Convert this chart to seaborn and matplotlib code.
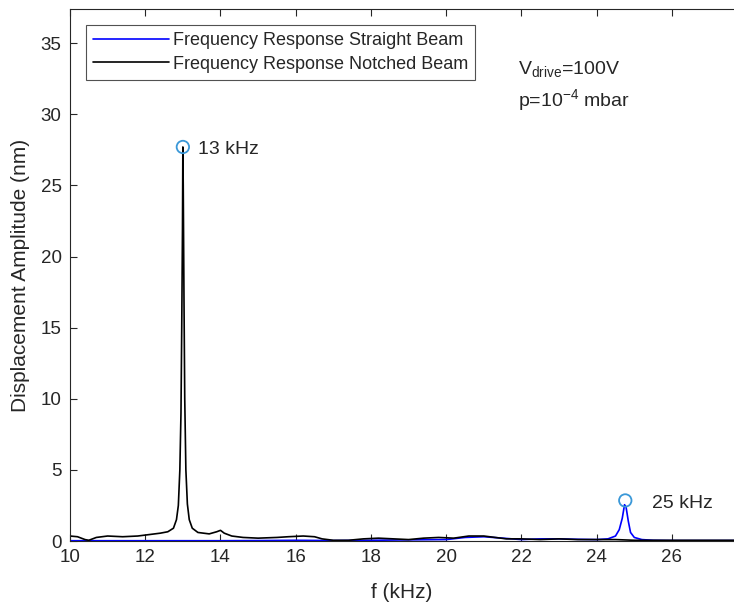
import numpy as np
import pandas as pd
import matplotlib
matplotlib.use("Agg")
import matplotlib.pyplot as plt
import seaborn as sns

# ---- data ----
notched_f = [10.0, 10.2, 10.4, 10.5, 10.7, 11.0, 11.4, 11.8, 12.1, 12.4, 12.6, 12.75,
             12.83, 12.88, 12.92, 12.95, 12.97, 12.99, 13.0, 13.01, 13.03, 13.05, 13.08,
             13.12, 13.17, 13.25, 13.4, 13.7, 13.9, 14.0, 14.1, 14.3, 14.6, 15.0, 15.5,
             15.8, 16.2, 16.5, 16.7, 17.0, 17.4, 17.8, 18.2, 18.6, 19.0, 19.4, 19.8,
             20.2, 20.6, 21.0, 21.3, 21.6, 22.0, 22.5, 23.0, 23.5, 24.0, 24.5, 25.0,
             25.5, 26.0, 26.5, 27.0, 27.65]
notched_amp = [0.35, 0.3, 0.1, 0.05, 0.25, 0.35, 0.3, 0.35, 0.45, 0.55, 0.65, 0.9,
               1.5, 2.5, 5.0, 9.0, 15.0, 22.0, 27.7, 25.0, 17.0, 10.0, 5.0,
               2.6, 1.5, 0.9, 0.6, 0.5, 0.65, 0.75, 0.55, 0.35, 0.25, 0.2, 0.25,
               0.3, 0.35, 0.3, 0.15, 0.05, 0.05, 0.15, 0.2, 0.15, 0.1, 0.2, 0.25,
               0.2, 0.35, 0.35, 0.25, 0.15, 0.15, 0.1, 0.15, 0.1, 0.1, 0.1, 0.05,
               0.05, 0.05, 0.05, 0.05, 0.05]

straight_f = [10.0, 11.0, 12.0, 13.0, 14.0, 15.0, 16.0, 17.0, 18.0, 19.0, 20.0, 20.5,
              21.0, 21.5, 22.0, 22.5, 23.0, 23.5, 24.0, 24.3, 24.5, 24.6, 24.68, 24.74,
              24.78, 24.84, 24.9, 25.0, 25.2, 25.5, 26.0, 26.5, 27.0, 27.65]
straight_amp = [0.02, 0.02, 0.02, 0.02, 0.02, 0.03, 0.05, 0.03, 0.05, 0.08, 0.1, 0.25,
                0.3, 0.2, 0.1, 0.15, 0.15, 0.12, 0.1, 0.15, 0.35, 0.8, 1.6, 2.55,
                2.4, 1.4, 0.6, 0.25, 0.1, 0.05, 0.03, 0.03, 0.03, 0.03]

peak_f = [13.0, 24.76]
peak_amp = [27.7, 2.85]
peak_labels = ["13 kHz", "25 kHz"]

series_names = ["Frequency Response Straight Beam", "Frequency Response Notched Beam"]

df = pd.concat([
    pd.DataFrame({"f": straight_f, "amp": straight_amp, "series": series_names[0]}),
    pd.DataFrame({"f": notched_f, "amp": notched_amp, "series": series_names[1]}),
], ignore_index=True)

sns.set_style("ticks")
plt.rcParams["font.family"] = ["Liberation Sans", "DejaVu Sans"]
plt.rcParams["mathtext.fontset"] = "custom"
plt.rcParams["mathtext.rm"] = "Liberation Sans"
plt.rcParams["mathtext.it"] = "Liberation Sans"

TXT = "#262626"

fig = plt.figure(figsize=(7.34, 6.08), dpi=100)
ax = fig.add_axes([70 / 734, 1 - 541 / 608, 1 - 70 / 734, (541 - 9) / 608])

sns.lineplot(data=df, x="f", y="amp", hue="series", sort=False, estimator=None,
             palette={series_names[0]: "#0000ff", series_names[1]: "#000000"},
             linewidth=1.2, ax=ax)

ax.scatter(peak_f, peak_amp, s=80, facecolors="none", edgecolors="#3a98d8",
           linewidths=1.3, zorder=5)
ax.text(13.4, 27.5, peak_labels[0], fontsize=14, va="center", ha="left", color=TXT)
ax.text(25.48, 2.67, peak_labels[1], fontsize=14, va="center", ha="left", color=TXT)

ax.text(21.9, 33.2, r"V$_{\mathrm{drive}}$=100V", fontsize=14, va="center", ha="left", color=TXT)
ax.text(21.9, 31.0, r"p=10$^{\mathrm{-4}}$ mbar", fontsize=14, va="center", ha="left", color=TXT)

ax.set_xlim(10, 27.65)
ax.set_ylim(0, 37.4)
ax.set_xticks(np.arange(10, 27, 2))
ax.set_yticks(np.arange(0, 36, 5))
ax.set_xlabel("f (kHz)", fontsize=15, color=TXT, labelpad=12)
ax.set_ylabel("Displacement Amplitude (nm)", fontsize=15, color=TXT, labelpad=8)

ax.tick_params(direction="in", top=True, right=False, length=5, width=0.8,
               labelsize=13.5, colors=TXT, pad=6)
for s in ["left", "bottom", "top"]:
    ax.spines[s].set_color(TXT)
    ax.spines[s].set_linewidth(0.8)
ax.spines["right"].set_visible(False)

leg = ax.legend(loc="upper left", bbox_to_anchor=(16 / 664, 1 - 16 / 532), fontsize=13,
                frameon=True, fancybox=False, edgecolor=TXT, handlelength=4.2,
                borderaxespad=0, handletextpad=0.2, labelspacing=0.35, borderpad=0.4)
leg.get_frame().set_linewidth(0.8)
for t in leg.get_texts():
    t.set_color(TXT)

fig.savefig("out.png", dpi=100)
